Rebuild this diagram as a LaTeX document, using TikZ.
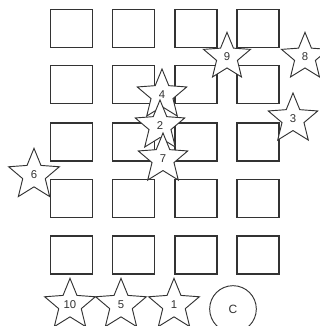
\documentclass[tikz,border=0pt]{standalone}
\usepackage{fontspec}
\setmainfont{Liberation Sans}
\usetikzlibrary{shapes.geometric}
\tikzset{
  sq/.style={draw=black!80, line width=0.9pt, minimum width=31.5pt, minimum height=28.5pt, inner sep=0pt},
  starbox/.style={star, star points=5, star point ratio=2.25, draw=black!80, fill=white, line width=0.7pt, inner sep=0pt, minimum size=#1, font=\fontsize{8.5}{9}\selectfont, text=black!80},
  starbox/.default=39pt,
  cbox/.style={circle, draw=black!80, line width=0.7pt, minimum size=35pt, inner sep=0pt, font=\fontsize{9}{10}\selectfont, text=black!80}
}
\begin{document}
\begin{tikzpicture}[x=0.75pt, y=-0.75pt]
\useasboundingbox (0,0) rectangle (320,326);
\foreach \r/\yy in {1/28.5, 2/84.5, 3/142, 4/198.5, 5/255}{
  \foreach \c/\xx in {1/71.5, 2/133.5, 3/196, 4/258}{
    \node[sq] (sq-\r-\c) at (\xx,\yy) {};
  }
}
\node[starbox=37pt] (s9) at (227,57) {9};
\node[starbox=37pt] (s8) at (305,57) {8};
\node[starbox=39pt] (s4) at (162,95) {4};
\node[starbox=39pt] (s2) at (160,126) {2};
\node[starbox=39pt] (s7) at (163,159) {7};
\node[starbox=39pt] (s3) at (293,119) {3};
\node[starbox=40pt] (s6) at (34,175) {6};
\node[starbox=40pt] (s10) at (70,305) {10};
\node[starbox=40pt] (s5) at (121,305) {5};
\node[starbox=40pt] (s1) at (174,305) {1};
\node[cbox] (c) at (233,309) {C};
\end{tikzpicture}
\end{document}
